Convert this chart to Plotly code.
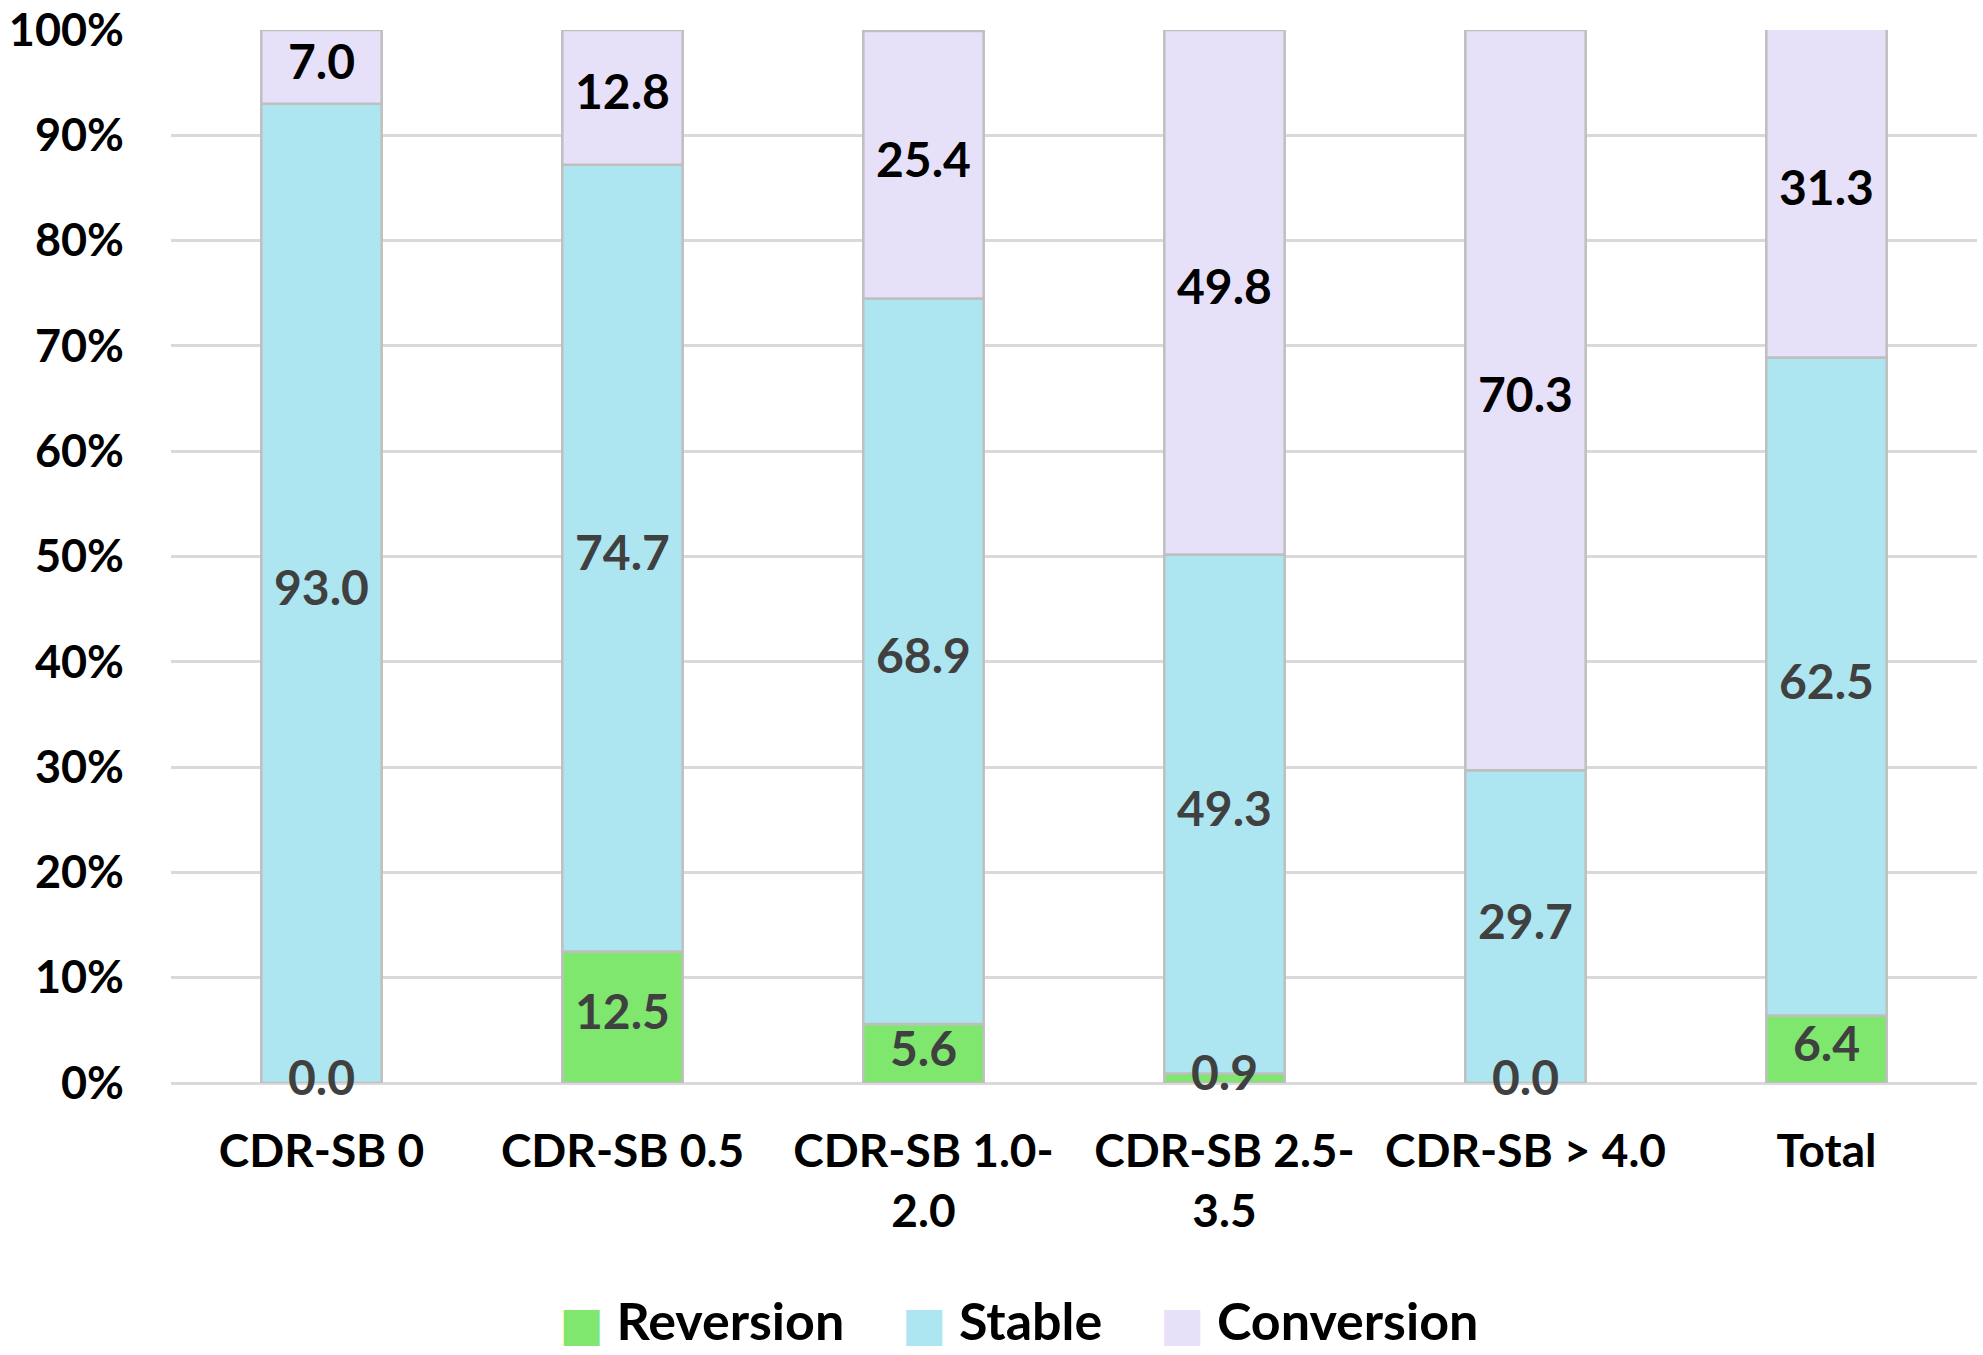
import plotly.graph_objects as go

categories = ["CDR-SB 0", "CDR-SB 0.5", "CDR-SB 1.0-<br>2.0", "CDR-SB 2.5-<br>3.5", "CDR-SB > 4.0", "Total"]
reversion = [0.0, 12.5, 5.6, 0.9, 0.0, 6.4]
stable = [93.0, 74.7, 68.9, 49.3, 29.7, 62.5]
conversion = [7.0, 12.8, 25.4, 49.8, 70.3, 31.3]
series_names = ["Reversion", "Stable", "Conversion"]
y_ticks = [0, 10, 20, 30, 40, 50, 60, 70, 80, 90, 100]
y_tick_text = [f"{v}%" for v in y_ticks]

colors = ["#7FE66E", "#ADE6F1", "#E7E0F9"]
label_colors = ["#404040", "#404040", "#000000"]
EDGE = "#BFBFBF"
FONT = "Lato, 'Open Sans', sans-serif"

fig = go.Figure()
series = [reversion, stable, conversion]
base = [0.0] * len(categories)
for name, vals, col, lcol in zip(series_names, series, colors, label_colors):
    fig.add_trace(go.Bar(
        x=categories, y=vals, name=name, base=base, showlegend=False,
        marker=dict(color=col, line=dict(color=EDGE, width=2.5)),
        width=0.4,
    ))
    mids = [b + v / 2 for b, v in zip(base, vals)]
    fig.add_trace(go.Scatter(
        x=categories, y=mids, mode="text", text=[f"{v:.1f}" for v in vals],
        textfont=dict(family=FONT, size=48, color=lcol, weight="bold"),
        showlegend=False, hoverinfo="skip", cliponaxis=False,
    ))
    base = [b + v for b, v in zip(base, vals)]

# legend entries: large coloured square swatch drawn as a glyph
for i, (name, col) in enumerate(zip(series_names, colors)):
    pad = "\u00a0" if i < len(series_names) - 1 else ""
    label = (f'<span style="color:{col};font-family:DejaVu Sans;font-size:47px;">\u25A0</span>'
             f'\u00a0{name}{pad}')
    fig.add_trace(go.Scatter(
        x=[None], y=[None], mode="markers", name=label,
        marker=dict(symbol="square", size=1, color="rgba(0,0,0,0)",
                    line=dict(width=0)),
    ))

fig.update_layout(
    width=1983, height=1355,
    margin=dict(l=171, r=6, t=30, b=272),
    plot_bgcolor="white", paper_bgcolor="white",
    barmode="overlay",
    font=dict(family=FONT, size=45, color="#000000", weight="bold"),
    xaxis=dict(showgrid=False, ticks="", ticklabelstandoff=37, automargin=False,
               tickangle=0,
               tickfont=dict(family=FONT, size=46, color="#000000", weight="bold")),
    yaxis=dict(range=[0, 100], tickvals=y_ticks, ticktext=y_tick_text,
               showgrid=True, gridcolor="#D9D9D9", gridwidth=3,
               zeroline=True, zerolinecolor="#D9D9D9", zerolinewidth=3,
               ticklabelstandoff=46, ticklabeloverflow="allow", automargin=False,
               tickfont=dict(family=FONT, size=45, color="#000000", weight="bold")),
    legend=dict(orientation="h", xref="container", yref="container",
                x=0.505, xanchor="center", y=0.026, yanchor="middle",
                font=dict(family=FONT, size=52, color="#000000", weight="bold"),
                itemwidth=30, traceorder="normal"),
)

fig.write_html("out.html", config={"displayModeBar": False},
               post_script="document.body.style.margin='0';")
